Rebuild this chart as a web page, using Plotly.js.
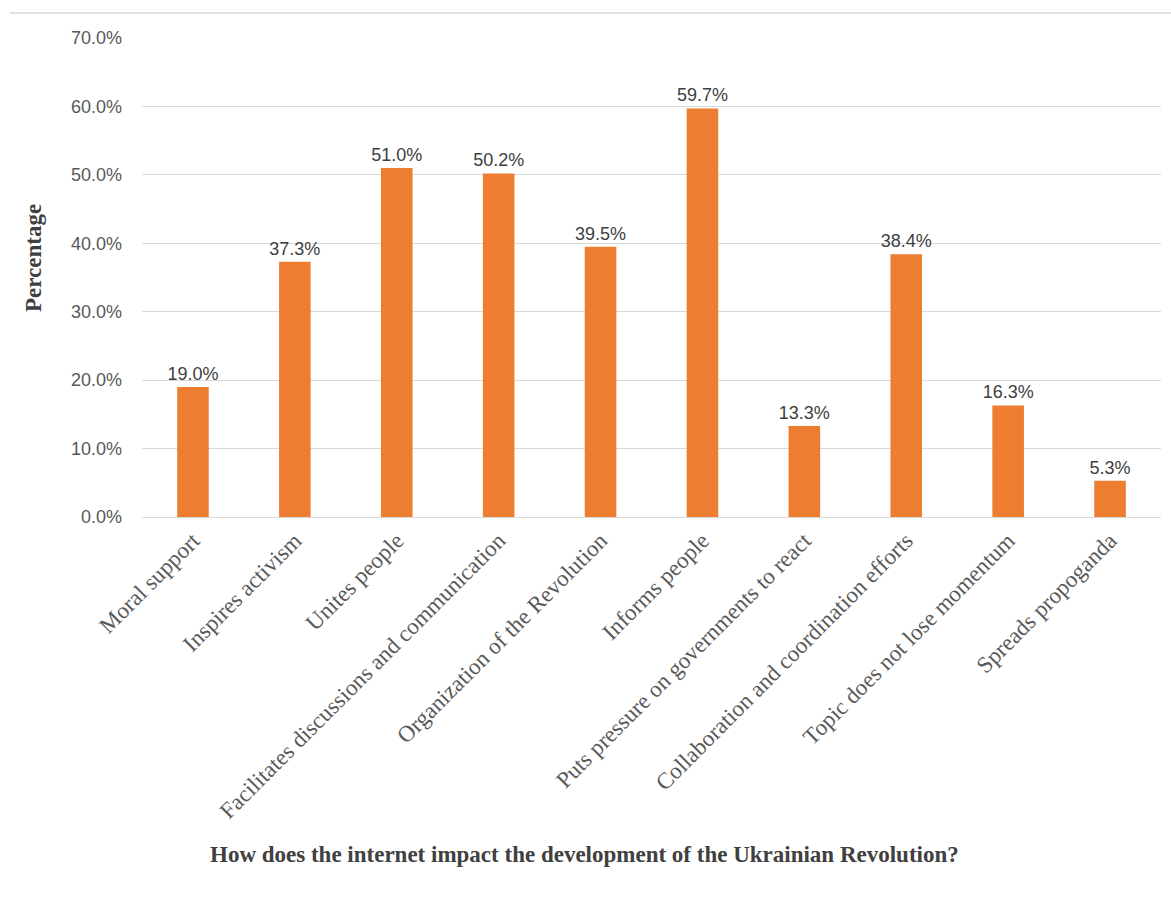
<!DOCTYPE html>
<html>
<head>
<meta charset="utf-8">
<script src="https://cdn.plot.ly/plotly-3.0.1.min.js"></script>
<style>html,body{margin:0;padding:0;background:#fff;}#chart{width:1171px;height:901px;}</style>
</head>
<body>
<div id="chart"></div>
<script>
const categories = [
  "Moral support",
  "Inspires activism",
  "Unites people",
  "Facilitates discussions and communication",
  "Organization of the Revolution",
  "Informs people",
  "Puts pressure on governments to react",
  "Collaboration and coordination efforts",
  "Topic does not lose momentum",
  "Spreads propoganda"
];
const values = [19.0, 37.3, 51.0, 50.2, 39.5, 59.7, 13.3, 38.4, 16.3, 5.3];
const labels = values.map(v => v.toFixed(1) + "%");
const xTitle = "How does the internet impact the development of the Ukrainian Revolution?";
const yTitle = "Percentage";

const trace = {
  type: "bar",
  x: categories,
  y: values,
  text: labels,
  textposition: "outside",
  constraintext: "none",
  cliponaxis: false,
  textfont: {family: "Liberation Sans, Arial, sans-serif", size: 18, color: "#404040"},
  marker: {color: "#ED7D31"},
  hoverinfo: "x+y"
};

const layout = {
  width: 1171,
  height: 901,
  margin: {l: 142, r: 10, t: 38, b: 384},
  paper_bgcolor: "#ffffff",
  plot_bgcolor: "#ffffff",
  bargap: 0.69,
  showlegend: false,
  xaxis: {
    type: "category",
    tickangle: -45,
    tickfont: {family: "Liberation Serif, Times New Roman, serif", size: 23, color: "#595959"},
    showgrid: false,
    showline: true,
    linecolor: "#d9d9d9",
    linewidth: 1,
    ticks: "",
    automargin: false
  },
  yaxis: {
    range: [0, 70],
    dtick: 10,
    tickformat: ".1f",
    ticksuffix: "%",
    tickfont: {family: "Liberation Sans, Arial, sans-serif", size: 18, color: "#595959"},
    showgrid: true,
    gridcolor: "#d9d9d9",
    gridwidth: 1,
    zeroline: false,
    showline: false,
    ticks: "",
    ticklabelstandoff: 19,
    automargin: false
  },
  annotations: [
    {text: "<b>" + xTitle + "</b>", xref: "paper", yref: "paper", x: 0.4347, y: -0.7056,
     xanchor: "center", yanchor: "middle", showarrow: false,
     font: {family: "Liberation Serif, Times New Roman, serif", size: 23, color: "#404040"}},
    {text: "<b>" + yTitle + "</b>", xref: "paper", yref: "paper", x: -0.107, y: 0.5407,
     xanchor: "center", yanchor: "middle", showarrow: false, textangle: -90,
     font: {family: "Liberation Serif, Times New Roman, serif", size: 23, color: "#404040"}}
  ],
  shapes: [
    {type: "line", xref: "paper", yref: "paper", x0: -0.13, x1: 1.02, y0: 1.052, y1: 1.052,
     line: {color: "#d9d9d9", width: 1.5}}
  ]
};

Plotly.newPlot("chart", [trace], layout, {displayModeBar: false, staticPlot: true});
</script>
</body>
</html>
